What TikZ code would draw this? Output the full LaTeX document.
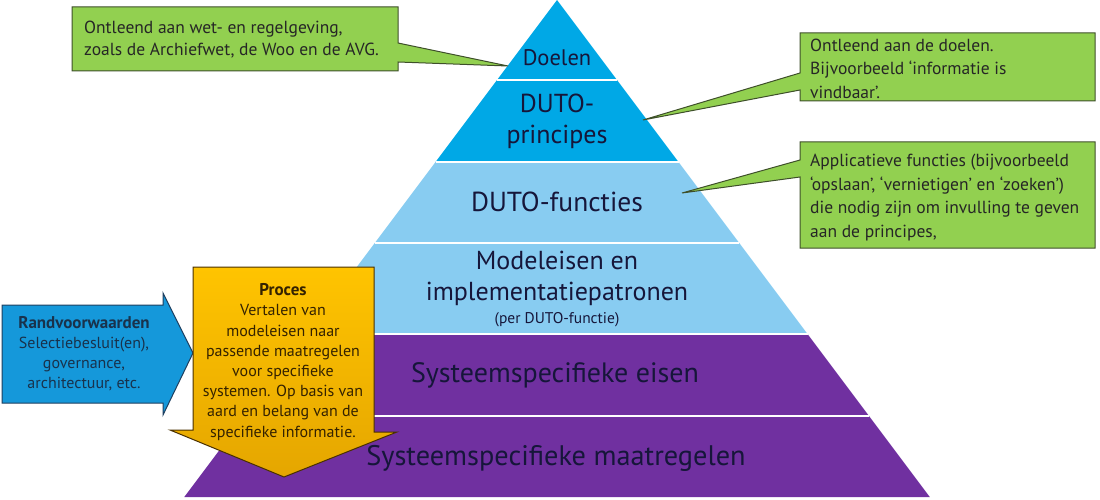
\documentclass[tikz,border=0pt]{standalone}
\usepackage{fontspec}
\setmainfont{PT Sans}
\definecolor{blueA}{HTML}{00A8E6}
\definecolor{blueB}{HTML}{88CCF1}
\definecolor{purp}{HTML}{7030A0}
\definecolor{callgreen}{HTML}{92D050}
\definecolor{callborder}{HTML}{3E4F2A}
\definecolor{rvblue}{HTML}{1598DA}
\definecolor{rvborder}{HTML}{1F3F5F}
\definecolor{procA}{HTML}{FFC400}
\definecolor{procB}{HTML}{E5A600}
\definecolor{procborder}{HTML}{4A3000}
\definecolor{ink}{HTML}{16163A}
\tikzset{
  sep/.style={draw=white, line width=1.6pt},
  ptext/.style={text=ink, align=center, inner sep=0pt},
  calloutshape/.style={fill=callgreen, draw=callborder, line width=1pt, line join=miter},
  ctext/.style={text=black!85, align=left, anchor=west, inner sep=0pt, font=\fontsize{17.5}{23.5}\selectfont},
  rvshape/.style={fill=rvblue, draw=rvborder, line width=1pt, line join=miter},
  procshape/.style={top color=procA, bottom color=procB, draw=procborder, line width=1pt, line join=miter},
  atext/.style={align=center, inner sep=0pt, font=\fontsize{16}{20.2}\selectfont}
}
\begin{document}
\begin{tikzpicture}[x=1pt,y=-1pt]
\useasboundingbox (0,0) rectangle (1100,500);
% pyramid layers
\fill[blueA] (557,0) -- (617,80) -- (678.5,162) -- (435.5,162) -- (497,80) -- cycle;
\fill[blueB] (435.5,162) -- (678.5,162) -- (807.5,334) -- (306.5,334) -- cycle;
\fill[purp] (306.5,334) -- (807.5,334) -- (929.75,497) -- (184.25,497) -- cycle;
\draw[sep] (497,80) -- (617,80);
\draw[sep] (435.5,162) -- (678.5,162);
\draw[sep] (374.75,243) -- (739.25,243);
\draw[sep] (306.5,334) -- (807.5,334);
\draw[sep] (245,416) -- (869,416);
% pyramid texts
\node[ptext, font=\fontsize{22.5}{26}\selectfont] (doelen) at (557,58) {Doelen};
\node[ptext, font=\fontsize{26}{31}\selectfont] (princ) at (557,121) {DUTO-\\principes};
\node[ptext, font=\fontsize{27.5}{31}\selectfont] (func) at (557,202) {DUTO-functies};
\node[ptext, font=\fontsize{26}{31}\selectfont] (model) at (557,278) {Modeleisen en\\implementatiepatronen};
\node[ptext, font=\fontsize{15.5}{18}\selectfont] (per) at (557,320) {(per DUTO-functie)};
\node[ptext, font=\fontsize{28}{31}\selectfont] (eisen) at (555,375) {Systeemspecifieke eisen};
\node[ptext, font=\fontsize{28.3}{31}\selectfont] (maatr) at (556,458) {Systeemspecifieke maatregelen};
% callouts
\path[calloutshape] (72,7) -- (398,7) -- (398,43) -- (508,66) -- (398,62) -- (398,71) -- (72,71) -- cycle;
\node[ctext, font=\fontsize{17.5}{22}\selectfont] (c1) at (84,40) {Ontleend aan wet- en regelgeving,\\zoals de Archiefwet, de Woo en de AVG.};
\path[calloutshape] (800,33) -- (1095,33) -- (1095,101) -- (800,101) -- (800,90) -- (643,120) -- (800,73) -- cycle;
\node[ctext] (c2) at (810,68.5) {Ontleend aan de doelen.\\Bijvoorbeeld ‘informatie is\\vindbaar’.};
\path[calloutshape] (800,142) -- (1095,142) -- (1095,248) -- (800,248) -- (800,177) -- (682,193) -- (800,160) -- cycle;
\node[ctext] (c3) at (810,197.5) {Applicatieve functies (bijvoorbeeld\\‘opslaan’, ‘vernietigen’ en ‘zoeken’)\\die nodig zijn om invulling te geven\\aan de principes,};
% Randvoorwaarden arrow
\path[rvshape] (2,305) -- (163,305) -- (163,293) -- (193,353) -- (163,415) -- (163,403) -- (2,403) -- cycle;
\node[atext, text=rvborder!80!black] (rv) at (84,353.5) {{\fontsize{17}{20.2}\selectfont\textbf{Randvoorwaarden}}\\Selectiebesluit(en),\\governance,\\architectuur, etc.};
% Proces arrow
\path[procshape] (193,267) -- (374,267) -- (374,432) -- (397,432) -- (284,477) -- (170,430) -- (193,430) -- cycle;
\node[atext, text=procborder!70!black] (proc) at (283,362) {{\fontsize{17}{20.2}\selectfont\textbf{Proces}}\\Vertalen van\\modeleisen naar\\passende maatregelen\\voor specifieke\\systemen. Op basis van\\aard en belang van de\\specifieke informatie.};
\end{tikzpicture}
\end{document}
